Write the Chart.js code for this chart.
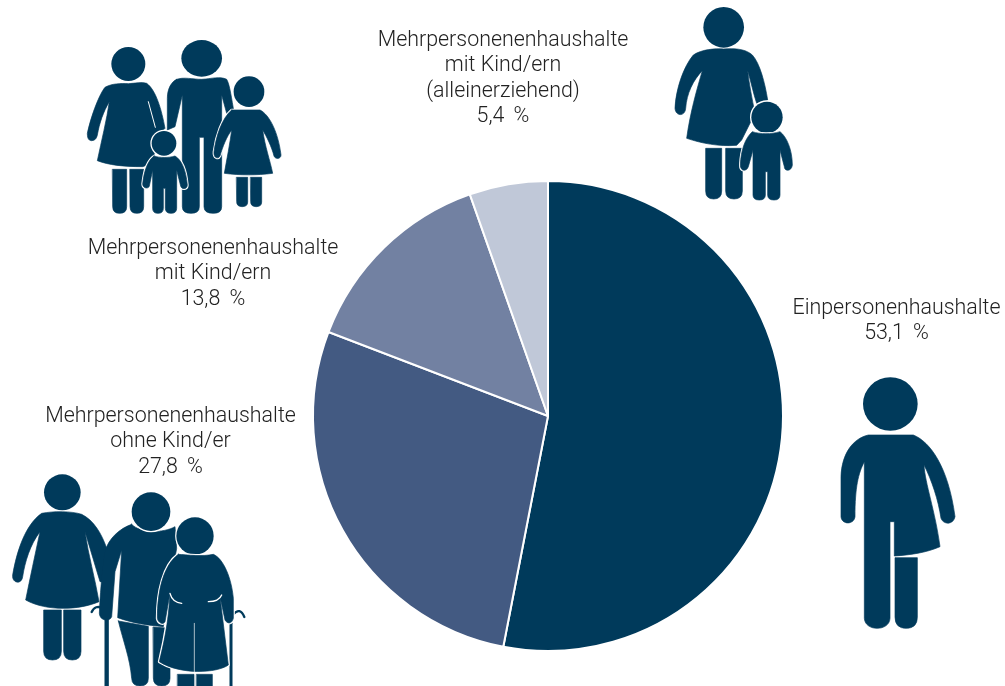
<!DOCTYPE html>
<html><head><meta charset="utf-8">
<style>html,body{margin:0;padding:0;background:#fff}#w{width:1005px;height:686px;position:relative}</style>
<script src="https://cdn.jsdelivr.net/npm/chart.js@4"></script></head>
<body><div id="w"><canvas id="c" width="1005" height="686"></canvas></div>
<script>
const categories = ["Einpersonenhaushalte","Mehrpersonenenhaushalte ohne Kind/er","Mehrpersonenenhaushalte mit Kind/ern","Mehrpersonenenhaushalte mit Kind/ern (alleinerziehend)"];
const values = [53.1,27.8,13.8,5.4];
const colors = ["#003a5b","#435a82","#7281a2","#c0c8d8"];
const labelLines = [
  ["Einpersonenhaushalte","53,1 %"],
  ["Mehrpersonenenhaushalte","ohne Kind/er","27,8 %"],
  ["Mehrpersonenenhaushalte","mit Kind/ern","13,8 %"],
  ["Mehrpersonenenhaushalte","mit Kind/ern","(alleinerziehend)","5,4 %"]
];
const labelAnchors = [[896.5,314],[170.5,422],[213,254],[503,46]];
const INK = "#003a5b";

function leg(x,y,w,h,r){return `M${x} ${y}H${x+w}V${y+h-r}Q${x+w} ${y+h} ${x+w/2} ${y+h}Q${x} ${y+h} ${x} ${y+h-r}Z`;}
function icon(ctx,x0,y0,fn){ctx.save();ctx.translate(x0,y0);ctx.scale(1/3,1/3);ctx.fillStyle=INK;ctx.lineJoin="round";fn(ctx);ctx.restore();}
function fill(ctx,d){const p=new Path2D(d);ctx.strokeStyle=INK;ctx.lineWidth=2;ctx.stroke(p);ctx.fill(p);}
function halo(ctx,d,w){const p=new Path2D(d);ctx.strokeStyle="#fff";ctx.lineWidth=w||9;ctx.stroke(p);ctx.strokeStyle=INK;ctx.lineWidth=2;ctx.stroke(p);ctx.fill(p);}
function head(ctx,x,y,rx,ry,h){ctx.beginPath();ctx.ellipse(x,y,rx,ry||rx,0,0,7);if(h){ctx.strokeStyle="#fff";ctx.lineWidth=h;ctx.stroke();}ctx.fill();}
function wl(ctx,d,w){ctx.strokeStyle="#fff";ctx.lineWidth=w||3;ctx.lineCap="round";ctx.stroke(new Path2D(d));}

const iconPlugin={id:"icons",afterDraw(chart){
  const ctx=chart.ctx;
  // family
  icon(ctx,80,30,c=>{
    head(c,145,102,51);
    fill(c,"M75 172C60 190 35 250 22 310C22 328 28 332 35 332C45 332 50 325 52 315C58 280 70 245 88 215C80 270 65 330 52 392C85 405 130 410 188 410L215 400L240 310L255 295C245 240 228 180 200 160C185 155 165 160 145 161C125 160 95 160 75 172Z");
    wl(c,"M205 215L226 292",3);
    fill(c,leg(98,418,42,132,20));fill(c,leg(150,418,41,132,20));
    head(c,365,85,61,55);
    const father="M290 148C310 140 340 148 365 148C395 146 420 138 440 148C450 165 455 210 462 245L440 250L425 195L425 530Q425 550 400 550Q372 550 372 530L372 322L358 322L358 530Q358 550 333 550Q307 550 307 530L307 195L285 290L262 300L262 205C262 175 275 155 290 148Z";
    halo(c,father,7);
    head(c,507,185,46,46,8);
    halo(c,"M455 240L540 240C570 255 595 310 603 375C603 388 585 388 582 378C575 350 560 320 548 300C555 350 570 390 578 430C530 436 480 436 433 430C440 390 450 340 455 300C440 320 428 350 420 378C415 388 400 385 402 365C408 320 425 265 455 240Z",8);
    fill(c,leg(470,442,33,88,14));fill(c,leg(512,442,33,88,14));
    head(c,252,340,37,37,8);
    halo(c,"M222 378C240 384 265 384 285 378C305 390 318 420 322 465C322 478 305 480 302 468L290 420L290 535Q290 550 273 550Q256 550 256 535L256 475L250 475L250 535Q250 550 234 550Q218 550 218 535L218 420L208 468C205 478 188 475 188 462C192 420 205 390 222 378Z",8);
  });
  // single parent
  icon(ctx,665,0,c=>{
    head(c,176,82,61);
    fill(c,"M85 165C110 148 150 145 176 147C205 145 240 145 262 165C285 190 300 250 308 300L275 310C265 280 258 245 248 212C252 250 262 300 270 340L230 420L215 436C160 440 110 430 65 415C75 340 95 270 112 212C85 240 65 280 62 325C60 350 32 350 30 325C32 270 55 200 85 165Z");
    fill(c,leg(122,445,48,152,24));fill(c,leg(182,445,50,152,24));
    head(c,306,352,47,47,8);
    halo(c,"M262 395C285 403 320 403 345 395C365 410 382 450 382 495C380 515 358 515 358 500L345 450L345 585Q345 600 327 600Q308 600 308 585L308 515L301 515L301 585Q301 600 283 600Q264 600 264 585L264 450L250 500C245 515 226 515 226 495C228 450 240 415 262 395Z",8);
  });
  // single person
  icon(ctx,830,370,c=>{
    head(c,181,102,82,80);
    fill(c,"M115 195L250 195C300 215 355 290 375 440C370 465 340 465 333 445C325 390 305 330 282 285C285 340 315 420 330 530C290 548 240 555 193 558L193 455L180 455L180 745C178 785 105 785 103 745L103 275C85 310 75 350 75 440C72 465 35 465 33 440L33 320C35 250 70 205 115 195Z");
    fill(c,leg(195,563,67,212,34));
  });
  // elderly
  icon(ctx,0,465,c=>{
    head(c,187,82,55,54);
    fill(c,"M125 145C160 138 215 138 245 148C280 165 305 205 320 250C325 290 335 330 335 350L300 350L255 200C265 270 285 340 297 410C240 435 140 440 77 405C90 340 105 270 120 200C90 240 75 290 68 335C65 360 35 355 38 330C50 260 75 180 125 145Z");
    fill(c,leg(131,435,53,150,26));fill(c,leg(191,435,52,150,26));
    // canes
    c.strokeStyle=INK;c.lineCap="round";c.lineWidth=13;c.beginPath();c.moveTo(320,465);c.lineTo(320,680);c.stroke();
    c.lineWidth=7;c.beginPath();c.moveTo(275,441);c.quadraticCurveTo(285,418,310,430);c.stroke();
    c.lineWidth=9;c.beginPath();c.moveTo(693,475);c.lineTo(693,680);c.stroke();
    c.lineWidth=7;c.beginPath();c.moveTo(700,448);c.quadraticCurveTo(720,425,733,456);c.stroke();
    // man
    fill(c,"M395 178C360 190 325 220 315 260C305 320 300 400 298 445C300 470 330 470 335 455L345 320L365 255L353 458C400 475 440 480 490 485L530 250L525 185C490 205 420 205 395 178Z");
    fill(c,"M355 468L445 484L445 640Q445 663 420 663Q396 663 395 640C390 580 370 530 355 468Z");
    fill(c,"M460 486L510 490L510 640Q510 663 485 663Q460 663 460 640Z");
    head(c,453,140,58,58,8);
    // woman with cane
    head(c,585,213,56,56,7);
    halo(c,"M535 268C560 270 610 275 640 268C670 280 695 340 700 400L700 460C695 480 680 475 675 465L660 395L685 600C650 625 540 630 478 590C490 540 505 480 510 385L495 470C490 480 475 475 472 460C472 380 490 300 535 268Z",9);
    wl(c,"M510 385C515 405 530 413 545 415",4);
    wl(c,"M625 410C645 410 660 402 665 390",4);
    wl(c,"M583 475L583 625",2);
    fill(c,"M533 628H582V700H533Z");fill(c,"M590 628H637V700H590Z");
  });
  // labels
  ctx.save();
  ctx.fillStyle="#222";
  ctx.font='300 21.4px Roboto';
  ctx.textAlign="center";ctx.textBaseline="alphabetic";
  labelLines.forEach((lines,i)=>{
    const [x,y]=labelAnchors[i];
    lines.forEach((t,j)=>{
      ctx.wordSpacing=t.endsWith("%")?"4px":"0px";
      ctx.fillText(t,x,y+j*25.3);
    });
  });
  ctx.restore();
}};

new Chart(document.getElementById("c"),{
  type:"pie",
  data:{labels:categories,datasets:[{data:values,backgroundColor:colors,borderColor:"#fff",borderWidth:2}]},
  options:{responsive:false,animation:false,rotation:0,
    layout:{padding:{left:312,right:221,top:180,bottom:34}},
    plugins:{legend:{display:false},tooltip:{enabled:false},title:{display:false}}},
  plugins:[iconPlugin]
});
</script></body></html>
